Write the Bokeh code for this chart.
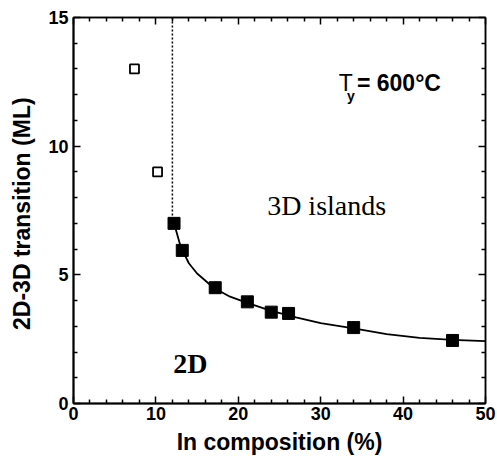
from bokeh.plotting import figure
from bokeh.models import Range1d, LinearAxis, FixedTicker, CustomLabelingPolicy
from bokeh.core.properties import value
from bokeh.embed import file_html
from bokeh.resources import INLINE

# Data
open_x = [7.4, 10.2]
open_y = [13.0, 9.0]

filled_x = [12.2, 13.2, 17.2, 21.1, 24.0, 26.1, 34.0, 46.0]
filled_y = [7.0, 5.95, 4.5, 3.95, 3.55, 3.5, 2.95, 2.45]

curve_x = [12.2, 13.0, 14.0, 15.0, 17.0, 19.0, 21.0, 24.0, 27.0, 30.0, 34.0, 38.0, 42.0, 46.0, 50.0]
curve_y = [7.0, 6.1, 5.45, 5.05, 4.5, 4.15, 3.92, 3.6, 3.35, 3.12, 2.92, 2.7, 2.55, 2.47, 2.42]

boundary_x = [12.0, 12.0]
boundary_y = [15.0, 7.0]

x_major = [0, 10, 20, 30, 40, 50]
x_minor = [2, 4, 6, 8, 12, 14, 16, 18, 22, 24, 26, 28, 32, 34, 36, 38, 42, 44, 46, 48]
y_major = [0, 5, 10, 15]
y_minor = [1, 2, 3, 4, 6, 7, 8, 9, 11, 12, 13, 14]

FONT = "Liberation Sans"
SERIF = "Liberation Serif"

p = figure(frame_width=412, frame_height=386, output_backend="svg", toolbar_location=None,
           x_range=Range1d(0, 50), y_range=Range1d(0, 15),
           min_border_left=73, min_border_right=2, min_border_top=17, min_border_bottom=62,
           x_axis_label="In composition (%)", y_axis_label="2D-3D  transition (ML)")
p.grid.visible = False
p.outline_line_color = "black"
p.outline_line_width = 1.5
p.background_fill_color = "white"
p.border_fill_color = "white"

def style_axis(ax, ticks, minor, show_labels=True):
    ax.ticker = FixedTicker(ticks=ticks, minor_ticks=minor)
    ax.axis_line_color = "black"
    ax.axis_line_width = 2
    ax.major_tick_in = 7
    ax.major_tick_out = 0
    ax.minor_tick_in = 4
    ax.minor_tick_out = 0
    ax.major_tick_line_width = 1.5
    ax.minor_tick_line_width = 1.5
    ax.major_tick_line_color = "black"
    ax.minor_tick_line_color = "black"
    if show_labels:
        ax.major_label_text_font = FONT
        ax.major_label_text_font_size = "18px"
        ax.major_label_text_font_style = "bold"
        ax.major_label_text_color = "black"
    else:
        ax.major_label_policy = CustomLabelingPolicy(code="return new Set()")
        ax.major_label_standoff = 0

style_axis(p.xaxis[0], x_major, x_minor)
style_axis(p.yaxis[0], y_major, y_minor)
p.xaxis[0].major_label_standoff = 3
p.yaxis[0].major_label_standoff = 5
for ax in (p.xaxis[0], p.yaxis[0]):
    ax.axis_label_text_font = FONT
    ax.axis_label_text_font_size = "23px"
    ax.axis_label_text_font_style = "bold"
    ax.axis_label_text_color = "black"
p.xaxis[0].axis_label_standoff = 6
p.yaxis[0].axis_label_standoff = 10

top = LinearAxis()
style_axis(top, x_major, x_minor, show_labels=False)
top.axis_line_width = 1.5
p.add_layout(top, "above")
right = LinearAxis()
style_axis(right, y_major, y_minor, show_labels=False)
right.axis_line_width = 1.5
p.add_layout(right, "right")

# boundary (dotted)
p.line(boundary_x, boundary_y, line_color="black", line_width=1.5, line_dash="2 2")
# fitted curve
p.line(curve_x, curve_y, line_color="black", line_width=1.8)
# open squares
p.scatter(open_x, open_y, marker="square", size=9, fill_color="white",
          line_color="black", line_width=1.8)
# filled squares
p.scatter(filled_x, filled_y, marker="square", size=12, fill_color="black",
          line_color="black")

# annotations
p.text(x=[23.5], y=[7.7], text=["3D islands"], text_font=value(SERIF),
       text_font_size="28px", text_color="black", text_baseline="alphabetic")
p.text(x=[12.1], y=[1.56], text=["2D"], text_font=value(SERIF),
       text_font_size="28px", text_font_style="bold", text_color="black",
       text_baseline="alphabetic")
p.text(x=[32.2], y=[12.45], text=["T"], text_font=value(FONT),
       text_font_size="23px", text_color="black", text_baseline="alphabetic")
p.text(x=[33.2], y=[11.95], text=["y"], text_font=value(FONT),
       text_font_size="14px", text_font_style="bold", text_color="black",
       text_baseline="alphabetic")
p.text(x=[34.4], y=[12.45], text=["= 600°C"], text_font=value(FONT),
       text_font_size="23px", text_font_style="bold", text_color="black",
       text_baseline="alphabetic")

open("out.html", "w").write(file_html(p, INLINE))
